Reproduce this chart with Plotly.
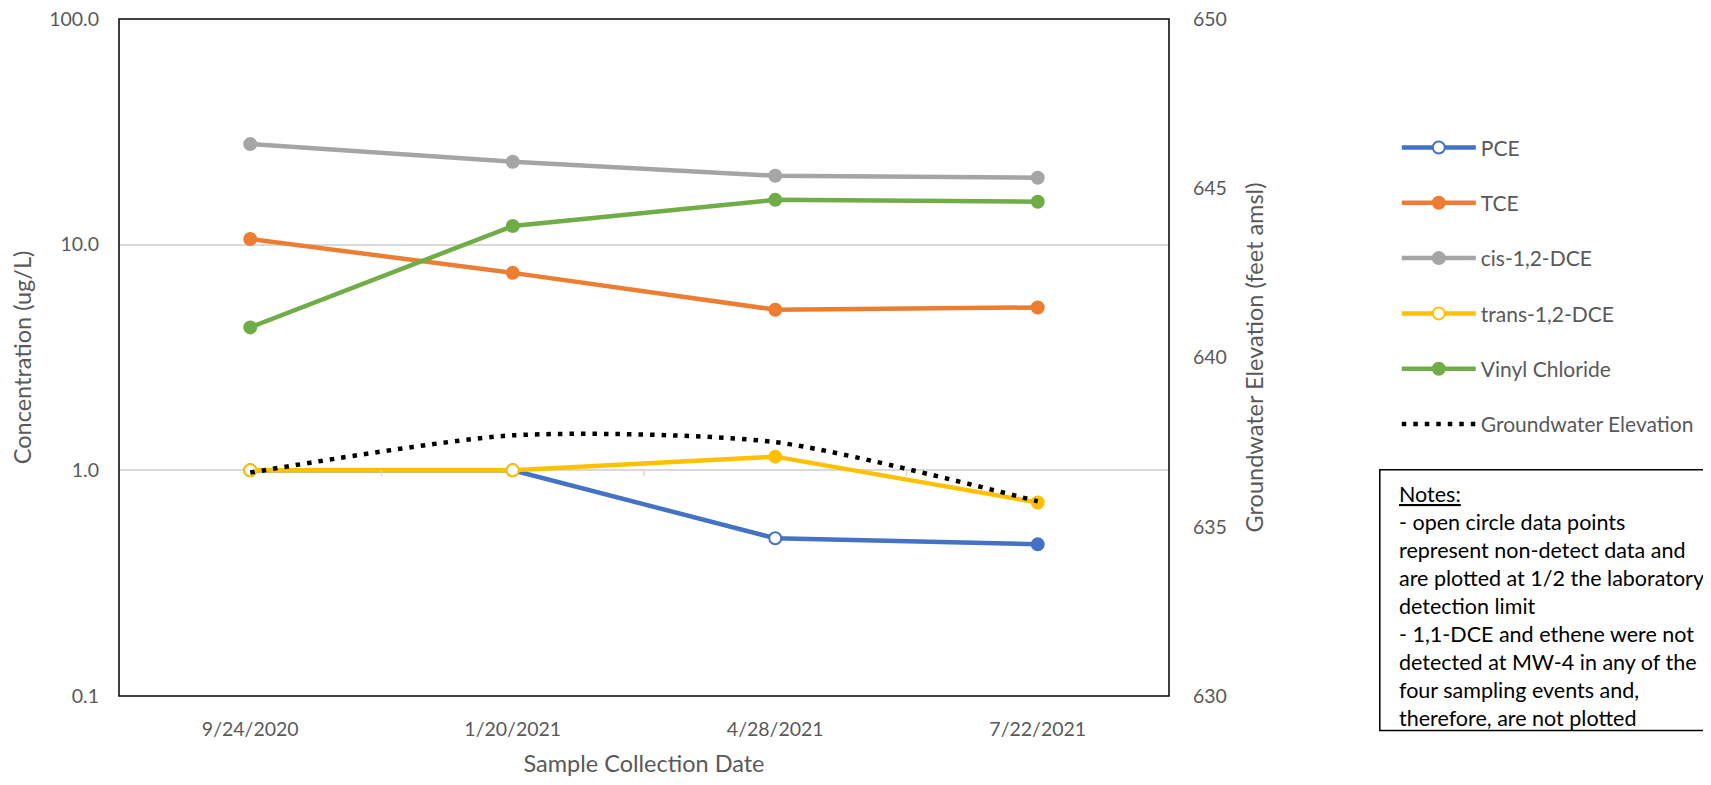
import plotly.graph_objects as go

dates = ["9/24/2020", "1/20/2021", "4/28/2021", "7/22/2021"]

pce = [1.0, 1.0, 0.5, 0.47]
pce_nd = [True, True, True, False]
tce = [10.6, 7.5, 5.15, 5.27]
tce_nd = [False, False, False, False]
cis_dce = [27.9, 23.3, 20.2, 19.8]
cis_nd = [False, False, False, False]
trans_dce = [1.0, 1.0, 1.15, 0.72]
trans_nd = [True, True, False, False]
vinyl = [4.3, 12.1, 15.8, 15.5]
vinyl_nd = [False, False, False, False]
gw_elev = [636.6, 637.7, 637.5, 635.75]

conc_ticks = [0.1, 1, 10, 100]
conc_ticktext = ["0.1", "1.0", "10.0", "100.0"]
gw_ticks = [630, 635, 640, 645, 650]

series = [
    ("PCE", pce, pce_nd, "#4472C4"),
    ("TCE", tce, tce_nd, "#ED7D31"),
    ("cis-1,2-DCE", cis_dce, cis_nd, "#A5A5A5"),
    ("trans-1,2-DCE", trans_dce, trans_nd, "#FFC000"),
    ("Vinyl Chloride", vinyl, vinyl_nd, "#70AD47"),
]

FONT = "Lato"
TEXT_COLOR = "#595959"

# page has an 8px body margin; figure sized to fit the 1711x785 window
W, H = 1695, 769
L, R, T, B = 110.5, 533.5, 10.5, 80.5
PW, PH = W - L - R, H - T - B


def px_x(px):
    return (px - L) / PW


def px_y(py):
    return (H - B - py) / PH


fig = go.Figure()
for i, (name, vals, nd, col) in enumerate(series):
    fig.add_trace(go.Scatter(
        x=dates, y=vals, name=name, mode="lines+markers",
        line=dict(color=col, width=4.5),
        marker=dict(size=12, color=["white" if n else col for n in nd],
                    line=dict(color=col, width=2)),
        legendgroup=f"g{i}",
        yaxis="y",
    ))

fig.add_trace(go.Scatter(
    x=dates, y=gw_elev, name="Groundwater Elevation", mode="lines",
    line=dict(color="black", width=4.5, dash="4.5px,7px", shape="spline", smoothing=0.7),
    legendgroup="g5",
    yaxis="y2",
))

# tiny category-boundary tick marks on the horizontal axis (which crosses at 1.0)
for b in [0.5, 1.5, 2.5]:
    fig.add_shape(type="line", xref="x", yref="y domain", x0=b, x1=b,
                  y0=1/3, y1=1/3 - 6/PH, line=dict(color="#D9D9D9", width=1.5))

# plot-area border
fig.add_shape(type="rect", xref="paper", yref="paper", x0=0, x1=1, y0=0, y1=1,
              line=dict(color="black", width=1.5), layer="above")

# notes box
fig.add_shape(type="rect", xref="paper", yref="paper",
              x0=px_x(1372.5), x1=px_x(1730), y0=px_y(462), y1=px_y(723),
              line=dict(color="black", width=1.5), fillcolor="white", layer="above")

notes = ("<u>Notes:</u><br>- open circle data points<br>represent non-detect data and<br>"
         "are plotted at 1/2 the laboratory<br>detection limit<br>"
         "- 1,1-DCE and ethene were not<br>detected at MW-4 in any of the<br>"
         "four sampling events and,<br>therefore, are not plotted")
fig.add_annotation(
    text=notes, xref="paper", yref="paper",
    x=px_x(1391), y=px_y(472),
    xanchor="left", yanchor="top", align="left", showarrow=False,
    font=dict(family=FONT, size=21.5, color="black"),
    borderpad=0,
)

fig.update_layout(
    width=W, height=H,
    margin=dict(l=L, r=R, t=T, b=B, autoexpand=False),
    plot_bgcolor="white", paper_bgcolor="white",
    xaxis=dict(
        type="category", range=[-0.5, 3.5], automargin=False,
        showgrid=False, showline=False, zeroline=False, ticks="",
        ticklabelstandoff=19,
        tickfont=dict(family=FONT, size=19.5, color=TEXT_COLOR),
        title=dict(text="Sample Collection Date", standoff=18,
                   font=dict(family=FONT, size=23.5, color=TEXT_COLOR)),
    ),
    yaxis=dict(
        type="log", range=[-1, 2], automargin=False,
        tickvals=conc_ticks, ticktext=conc_ticktext, ticklabeloverflow="allow",
        showgrid=True, gridcolor="#D9D9D9", gridwidth=1.5,
        showline=False, zeroline=False, ticks="",
        ticklabelstandoff=19,
        tickfont=dict(family=FONT, size=19.5, color=TEXT_COLOR),
        title=dict(text="Concentration (ug/L)", standoff=10,
                   font=dict(family=FONT, size=23.5, color=TEXT_COLOR)),
    ),
    yaxis2=dict(
        overlaying="y", side="right", range=[630, 650], automargin=False,
        tickvals=gw_ticks, ticklabeloverflow="allow",
        showgrid=False, showline=False, zeroline=False, ticks="",
        ticklabelstandoff=23,
        tickfont=dict(family=FONT, size=19.5, color=TEXT_COLOR),
        title=dict(text="Groundwater Elevation (feet amsl)", standoff=20,
                   font=dict(family=FONT, size=23.5, color=TEXT_COLOR)),
    ),
    legend=dict(
        x=px_x(1389.5), y=px_y(119), xanchor="left", yanchor="top",
        traceorder="grouped", tracegroupgap=25, itemwidth=74,
        font=dict(family=FONT, size=21, color=TEXT_COLOR),
        bgcolor="rgba(0,0,0,0)",
    ),
)

fig.write_html("out.html")
